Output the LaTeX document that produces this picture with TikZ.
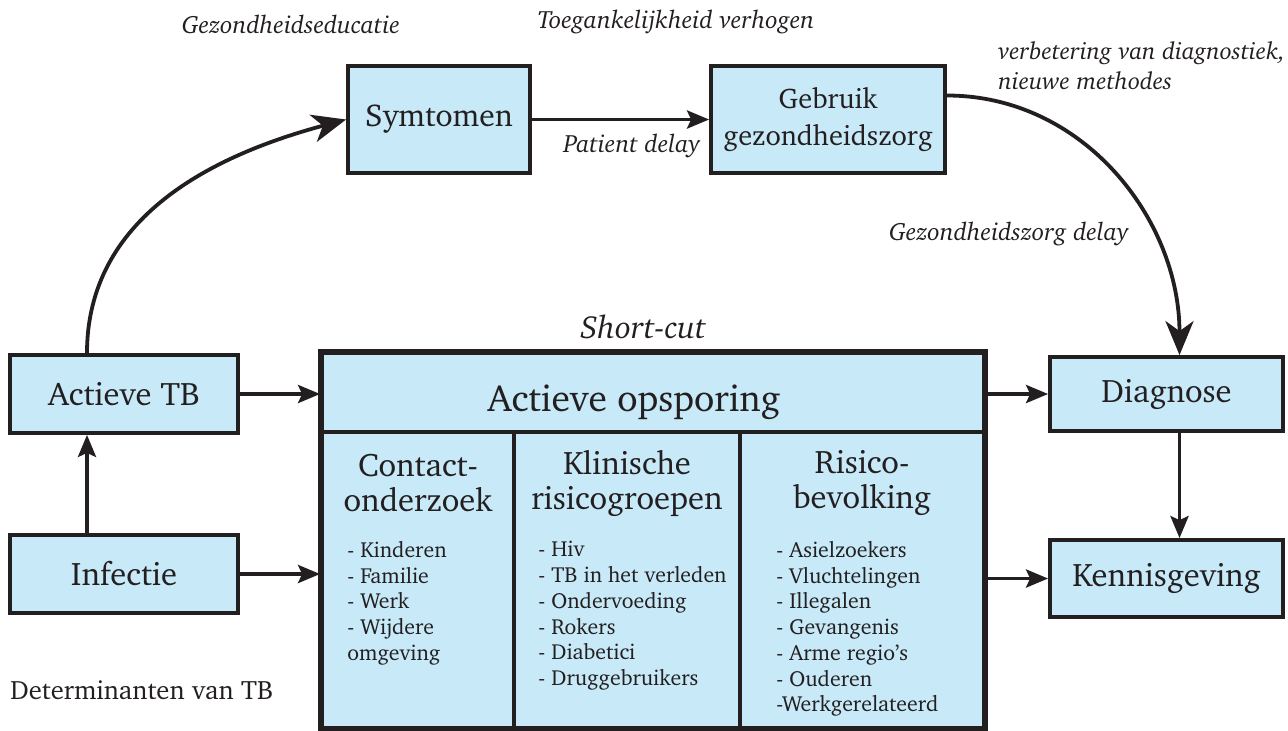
\documentclass[tikz,border=0pt]{standalone}
\usepackage[T1]{fontenc}
\usepackage{charter}
\usetikzlibrary{arrows.meta}
\definecolor{boxblue}{RGB}{199,233,248}
\definecolor{ink}{RGB}{35,31,32}
\tikzset{
	box/.style={draw=ink, fill=boxblue, line width=1.9pt, inner sep=0pt, align=center, text=ink, font=\fontsize{16.3}{18}\selectfont},
	head/.style={inner sep=0pt, align=center, text=ink, font=\fontsize{16.3}{17.5}\selectfont},
	list/.style={inner sep=0pt, align=left, text=ink, anchor=north west, font=\fontsize{10.9}{12.85}\selectfont},
	note/.style={inner sep=0pt, text=ink, font=\fontsize{12.5}{15}\selectfont\itshape},
	arr/.style={draw=ink, line width=1.9pt, -{Stealth[length=11pt, width=9pt, inset=2pt]}},
	bigarr/.style={draw=ink, line width=1.9pt, -{Stealth[length=17pt, width=14pt, inset=5pt]}},
}
\begin{document}
\begin{tikzpicture}[x=0.5pt, y=-0.5pt]
			\useasboundingbox (0,0) rectangle (1288,730);
			\node[box, minimum width=114pt, minimum height=39pt] (tb) at (124,394) {Actieve TB};
			\node[box, minimum width=114pt, minimum height=39pt] (inf) at (124,574) {Infectie};
			\node[box, minimum width=91pt, minimum height=53.5pt, font=\fontsize{15.8}{18}\selectfont] (symp) at (439,119.5) {Symtomen};
			\node[box, minimum width=117pt, minimum height=53.5pt, font=\fontsize{14.2}{18.5}\selectfont] (gebr) at (828,119.5) {Gebruik\\gezondheidszorg};
			\node[box, minimum width=116.5pt, minimum height=37pt] (diag) at (1166.5,394) {Diagnose};
			\node[box, minimum width=116.5pt, minimum height=38.5pt] (kennis) at (1166.5,578.5) {Kennisgeving};
			\node[box, minimum width=331pt, minimum height=39.5pt] (opsp) at (653,392.5) {};
			\node[box, minimum width=96pt, minimum height=148pt] (contact) at (418,580) {};
			\node[box, minimum width=113pt, minimum height=148pt] (klin) at (627,580) {};
			\node[box, minimum width=122pt, minimum height=148pt] (risico) at (862,580) {};
			\draw[ink, line width=2.4pt] (opsp.north west) rectangle (risico.south east);
			\node[head, font=\fontsize{18.8}{20}\selectfont] (opspt) at (634,402) {Actieve opsporing};
			\node[head] (contacth) at (418,483) {Contact-\\onderzoek};
			\node[head] (klinh) at (627,483) {Klinische\\risicogroepen};
			\node[head] (risicoh) at (862,483) {Risico-\\bevolking};
			\node[list] (contactl) at (347,541) {- Kinderen\\- Familie\\- Werk\\- Wijdere\\omgeving};
			\node[list] (klinl) at (538,541) {- Hiv\\- TB in het verleden\\- Ondervoeding\\- Rokers\\- Diabetici\\- Druggebruikers};
			\node[list] (risicol) at (776,541) {- Asielzoekers\\- Vluchtelingen\\- Illegalen\\- Gevangenis\\- Arme regio's\\- Ouderen\\-Werkgerelateerd};
			\node[note] (educ) at (291,24) {Gezondheidseducatie};
			\node[note] (toeg) at (676,22) {Toegankelijkheid verhogen};
			\node[note, anchor=west, align=left, font=\fontsize{12.1}{15}\selectfont\itshape] (verb) at (998,66) {verbetering van diagnostiek,\\nieuwe methodes};
			\node[note] (pdelay) at (632,146) {Patient delay};
			\node[note] (gdelay) at (1009,234) {Gezondheidszorg delay};
			\node[note, font=\fontsize{16}{18}\selectfont\itshape] (short) at (643,327) {Short-cut};
			\node[inner sep=0pt, anchor=west, text=ink, font=\fontsize{13.3}{15}\selectfont] (determ) at (10,690) {Determinanten van TB};
			\path ([xshift=-18.5pt]tb.north) edge[bigarr, out=90, in=195] (symp.west);
			\path ([yshift=12pt]gebr.east) edge[bigarr, out=0, in=90] ([xshift=6.5pt]diag.north);
			\path (symp) edge[arr] (gebr);
			\path (tb.east) edge[arr] (tb.east -| opsp.west);
			\path (inf.east) edge[arr] (inf.east -| contact.west);
			\path ([xshift=-18.5pt]inf.north) edge[arr] ([xshift=-18.5pt]tb.south);
			\path (diag.west -| opsp.east) edge[arr] (diag.west);
			\path (kennis.west -| risico.east) edge[arr] (kennis.west);
			\path ([xshift=6.5pt]diag.south) edge[arr] ([xshift=6.5pt]kennis.north);
		\end{tikzpicture}
\end{document}
